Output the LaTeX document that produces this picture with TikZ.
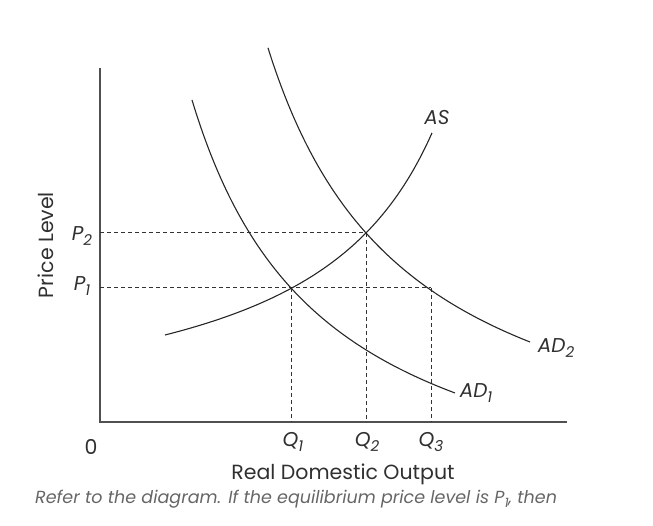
\documentclass[tikz,border=0pt]{standalone}
\usepackage{fontspec}
\setmainfont{Poppins}
\definecolor{axisgray}{HTML}{505050}
\definecolor{txt}{HTML}{303030}
\definecolor{captiongray}{HTML}{666666}
\newcommand\lowsub[1]{\raisebox{-0.45ex}{\fontsize{15}{15}\selectfont #1}}
\newcommand\capsub[1]{\raisebox{-0.45ex}{\fontsize{13}{13}\selectfont #1}}
\begin{document}
\begin{tikzpicture}[x=1pt,y=-1pt,
  axis/.style={line width=1.8pt, draw=axisgray},
  curve/.style={line width=1.1pt, draw=black!85},
  guide/.style={line width=1pt, dash pattern=on 4pt off 3pt, draw=black!80},
  lbl/.style={font=\fontsize{20}{22}\selectfont\itshape, text=txt, inner sep=0pt},
  up/.style={font=\fontsize{20.5}{22}\selectfont, text=txt, inner sep=0pt},
  captext/.style={font=\fontsize{17.5}{20}\selectfont\itshape, text=captiongray, inner sep=0pt}]
\useasboundingbox (0,0) rectangle (653,526);
% axes
\coordinate (O) at (100,422);
\coordinate (ytop) at (100,68);
\coordinate (xend) at (567,422);
\draw[axis] (ytop) -- (O) -- (xend);
% key points
\coordinate (E1) at (291,288);
\coordinate (E2) at (366,233);
\coordinate (E3) at (431,288);
\coordinate (yP2) at (100,233);
\coordinate (yP1) at (100,288);
\coordinate (xQ1) at (291,422);
\coordinate (xQ2) at (366,422);
\coordinate (xQ3) at (431,422);
% guides
\draw[guide] (yP2) -- (E2);
\draw[guide] (yP1) -- (E3);
\draw[guide] (E1) -- (xQ1);
\draw[guide] (E2) -- (xQ2);
\draw[guide] (E3) -- (xQ3);
% curves
\draw[curve] plot[domain=165:432, samples=100] (\x, {436.8 - 408.73/((566.5-\x)/100)});
\draw[curve] plot[domain=192:455, samples=100] (\x, {542.0 - 591.26/((\x-58.23)/100)});
\draw[curve] plot[domain=268:530, samples=100] (\x, {501.8 - 646.2/((\x-125.63)/100)});
% labels
\node[lbl] (lAS) at (437,118) {AS};
\node[lbl] (lAD2) at (556,348) {AD\lowsub{2}};
\node[lbl] (lAD1) at (476,393) {AD\lowsub{1}};
\node[lbl] (lP2) at (82,236) {P\lowsub{2}};
\node[lbl] (lP1) at (82,286) {P\lowsub{1}};
\node[lbl] (lQ1) at (293,442) {Q\lowsub{1}};
\node[lbl] (lQ2) at (367,442) {Q\lowsub{2}};
\node[lbl] (lQ3) at (431,442) {Q\lowsub{3}};
\node[up] (l0) at (91,447) {0};
\node[up] (lx) at (343,474) {Real Domestic Output};
\node[up, rotate=90] (ly) at (46,245) {Price Level};
\node[captext, anchor=west] (cap) at (35,499) {Refer to the diagram. If the equilibrium price level is P\capsub{1}, then};
\end{tikzpicture}
\end{document}
